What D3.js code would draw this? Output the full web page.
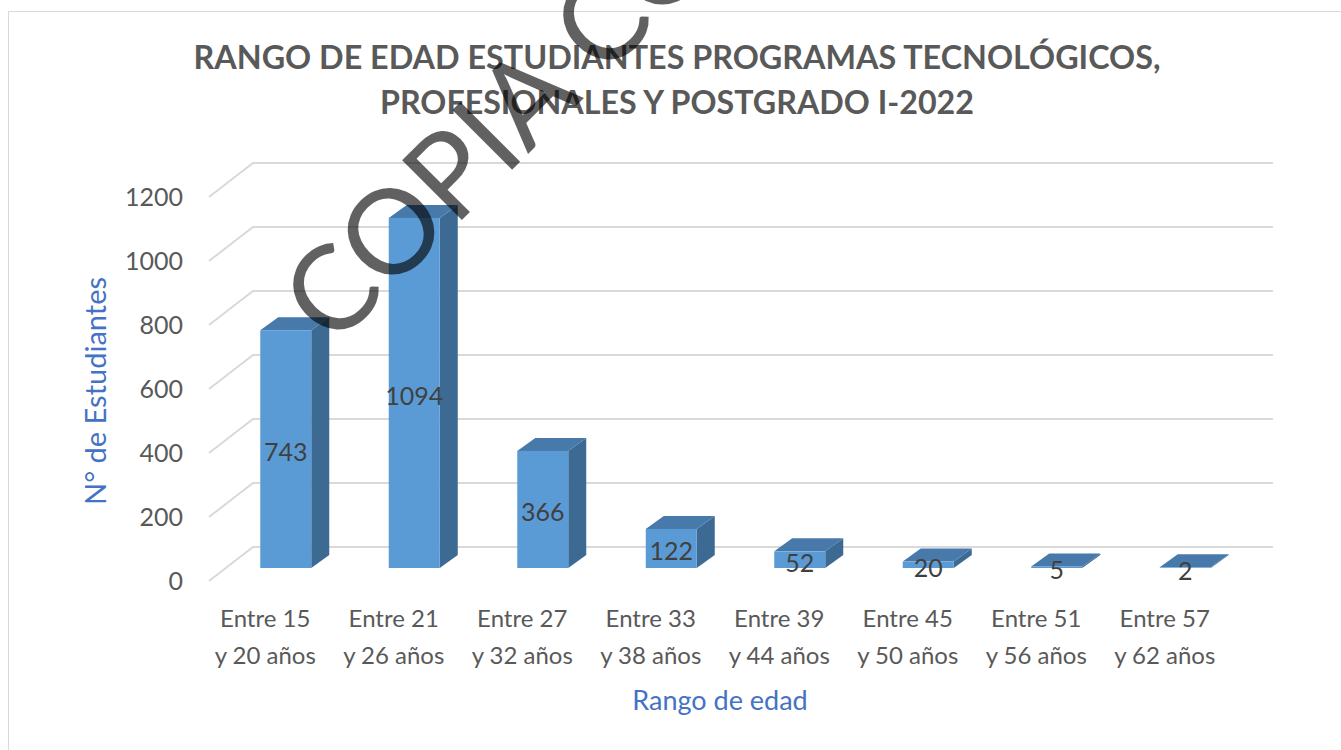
<!DOCTYPE html>
<html>
<head>
<meta charset="utf-8">
<script src="https://cdn.jsdelivr.net/npm/d3@7"></script>
<style>
  body { margin: 0; background: #fff; }
  svg { display: block; font-family: Lato, "Open Sans", sans-serif; }
</style>
</head>
<body>
<div id="chart"></div>
<script>
const categories = [
  ["Entre 15", "y 20 años"],
  ["Entre 21", "y 26 años"],
  ["Entre 27", "y 32 años"],
  ["Entre 33", "y 38 años"],
  ["Entre 39", "y 44 años"],
  ["Entre 45", "y 50 años"],
  ["Entre 51", "y 56 años"],
  ["Entre 57", "y 62 años"]
];
const students = [743, 1094, 366, 122, 52, 20, 5, 2];
const yTicks = [0, 200, 400, 600, 800, 1000, 1200];
const titleLines = [
  "RANGO DE EDAD ESTUDIANTES PROGRAMAS TECNOLÓGICOS,",
  "PROFESIONALES Y POSTGRADO I-2022"
];

const width = 1341;
const height = 750;

// 3d look: back wall offset and bar depth
const wallDx = 44, wallDy = -34;
const barDx = 18, barDy = -13;
const barLift = 13;

const svg = d3.select("#chart")
  .append("svg")
  .attr("width", width)
  .attr("height", height);

// chart area border
svg.append("rect")
  .attr("x", 8.5)
  .attr("y", 11.5)
  .attr("width", 1400)
  .attr("height", 800)
  .attr("fill", "#fff")
  .attr("stroke", "#d9d9d9");

const y = d3.scaleLinear()
  .domain([0, 1200])
  .range([581, 197]);

const x = d3.scaleBand()
  .domain(d3.range(categories.length))
  .range([201, 1229]);

// gridlines: floor edge + back wall
svg.append("g")
  .selectAll("path")
  .data(yTicks)
  .join("path")
  .attr("d", d => `M209,${y(d)} L${209 + wallDx},${y(d) + wallDy} L1273,${y(d) + wallDy}`)
  .attr("fill", "none")
  .attr("stroke", "#d9d9d9")
  .attr("stroke-width", 2);

svg.append("g")
  .selectAll("text")
  .data(yTicks)
  .join("text")
  .attr("x", 183)
  .attr("y", d => y(d) + 9)
  .attr("text-anchor", "end")
  .attr("fill", "#595959")
  .style("font-size", "25px")
  .text(d => d);

// bars
const bars = svg.append("g")
  .selectAll("g")
  .data(students)
  .join("g");

const bw = 51;
const barLeft = i => x(i) + x.bandwidth() / 2 - 5;
const barBase = y(0) - barLift;
const barTop = d => y(d) - barLift;

bars.append("path")
  .attr("d", (d, i) => {
    const r = barLeft(i) + bw;
    return `M${r},${barBase} L${r + barDx},${barBase + barDy} L${r + barDx},${barTop(d) + barDy} L${r},${barTop(d)} Z`;
  })
  .attr("fill", "#3d6a93");

bars.append("path")
  .attr("d", (d, i) => {
    const l = barLeft(i);
    return `M${l},${barTop(d)} L${l + barDx},${barTop(d) + barDy} L${l + bw + barDx},${barTop(d) + barDy} L${l + bw},${barTop(d)} Z`;
  })
  .attr("fill", "#4779ab");

bars.append("rect")
  .attr("x", (d, i) => barLeft(i))
  .attr("y", d => barTop(d))
  .attr("width", bw)
  .attr("height", d => barBase - barTop(d))
  .attr("fill", "#5b9bd5");

bars.append("text")
  .attr("x", (d, i) => barLeft(i) + bw / 2)
  .attr("y", d => (barTop(d) + barBase) / 2 + 12)
  .attr("text-anchor", "middle")
  .attr("fill", "#404040")
  .style("font-size", "25px")
  .text(d => d);

// category labels
const catLabels = svg.append("g")
  .selectAll("text")
  .data(categories)
  .join("text")
  .attr("text-anchor", "middle")
  .attr("fill", "#595959")
  .style("font-size", "24px");

catLabels.append("tspan")
  .attr("x", (d, i) => x(i) + x.bandwidth() / 2)
  .attr("y", 627)
  .text(d => d[0]);

catLabels.append("tspan")
  .attr("x", (d, i) => x(i) + x.bandwidth() / 2)
  .attr("y", 664)
  .text(d => d[1]);

// axis titles
svg.append("text")
  .attr("x", 720)
  .attr("y", 710)
  .attr("text-anchor", "middle")
  .attr("fill", "#4472c4")
  .style("font-size", "27px")
  .text("Rango de edad");

svg.append("text")
  .attr("transform", "translate(106,391) rotate(-90)")
  .attr("text-anchor", "middle")
  .attr("fill", "#4472c4")
  .style("font-size", "29px")
  .text("N° de Estudiantes");

// title
svg.append("g")
  .selectAll("text")
  .data(titleLines)
  .join("text")
  .attr("x", 677)
  .attr("y", (d, i) => 69 + i * 45)
  .attr("text-anchor", "middle")
  .attr("fill", "#595959")
  .attr("textLength", (d, i) => i === 0 ? 967 : 594)
  .attr("lengthAdjust", "spacingAndGlyphs")
  .style("font-size", "33px")
  .style("font-weight", "bold")
  .text(d => d);

// watermark (runs off the top edge, as in the original)
svg.append("text")
  .attr("transform", "translate(333,349) rotate(-45)")
  .attr("fill", "#000")
  .attr("fill-opacity", 0.62)
  .style("font-size", "118px")
  .style("font-weight", 400)
  .text("COPIA CONTROLADA");
</script>
</body>
</html>
